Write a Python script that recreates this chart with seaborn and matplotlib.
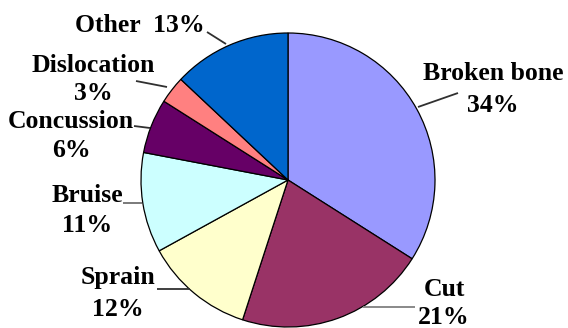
import matplotlib
matplotlib.use("Agg")
import matplotlib.pyplot as plt
import seaborn as sns

# ---- data ----
categories = ["Broken bone", "Cut", "Sprain", "Bruise", "Concussion", "Dislocation", "Other"]
values = [34, 21, 12, 11, 6, 3, 13]
colors = ["#9999FF", "#993366", "#FFFFCC", "#CCFFFF", "#660066", "#FF8080", "#0066CC"]

# ---- layout (image pixel coordinates, y downward) ----
W, H = 568, 328
CX, CY, R = 288, 180, 147
# label: (center x of block, baseline of name line, baseline of percent line)
label_pos = {
    "Broken bone": (493, 80, 112),
    "Cut": (444, 296, 324),
    "Sprain": (118, 284, 316),
    "Bruise": (87, 202, 232),
    "Concussion": (71, 128, 157),
    "Dislocation": (93, 72, 100),
}
other_pos = (75, 32)  # left x, baseline (single line label)
leaders = {
    "Other": ((207, 32), (226, 44), "#303030"),
    "Dislocation": ((136, 81), (167, 87), "#303030"),
    "Concussion": ((134, 126), (150, 128), "#303030"),
    "Bruise": ((123, 203), (142, 203), "#707070"),
    "Sprain": ((157, 289), (190, 289), "#303030"),
    "Cut": ((363, 307), (415, 307), "#808080"),
    "Broken bone": ((418, 107), (458, 93), "#303030"),
}

sns.set_theme(style="white")
plt.rcParams["font.family"] = ["Liberation Serif", "DejaVu Serif"]

fig = plt.figure(figsize=(W / 100, H / 100), dpi=100)
fig.patch.set_facecolor("white")
ax = fig.add_axes([0, 0, 1, 1])

def fy(y):
    return H - y

ax.pie(values, colors=colors, startangle=90, counterclock=False,
       center=(CX, fy(CY)), radius=R, frame=True,
       wedgeprops=dict(edgecolor="black", linewidth=0.9))
ax.set_xlim(0, W)
ax.set_ylim(0, H)
ax.set_aspect("equal")
ax.axis("off")

fs = 18.5
for cat, val in zip(categories, values):
    if cat == "Other":
        ax.text(other_pos[0], fy(other_pos[1]), f"{cat}  {val}%", fontsize=fs,
                fontweight="bold", ha="left", va="baseline", color="black")
    else:
        x, b1, b2 = label_pos[cat]
        ax.text(x, fy(b1), cat, fontsize=fs, fontweight="bold",
                ha="center", va="baseline", color="black")
        ax.text(x, fy(b2), f"{val}%", fontsize=fs, fontweight="bold",
                ha="center", va="baseline", color="black")
    (x1, y1), (x2, y2), lc = leaders[cat]
    ax.plot([x1, x2], [fy(y1), fy(y2)], color=lc, linewidth=1.3,
            solid_capstyle="butt")

fig.savefig("out.png", dpi=100, facecolor="white")
